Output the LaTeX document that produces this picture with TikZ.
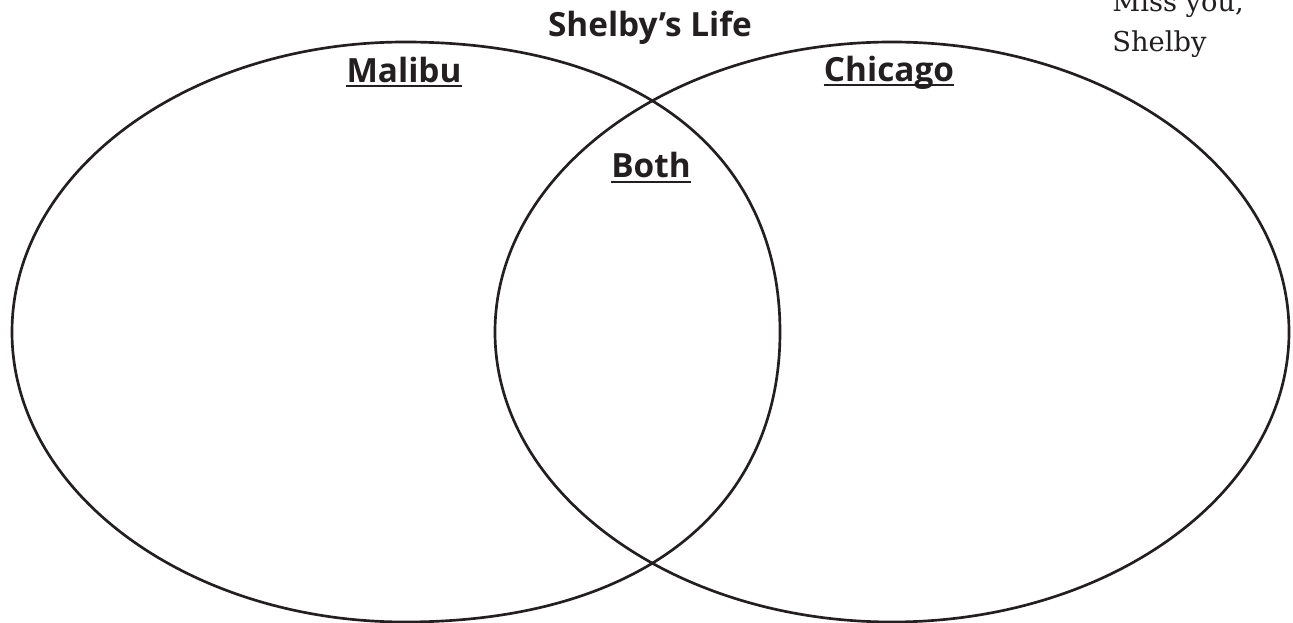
\documentclass[tikz,border=0pt]{standalone}
\usepackage{fontspec}
\setmainfont{Open Sans}
\newfontfamily\notefont{DejaVu Serif}
\definecolor{ink}{HTML}{231F20}
\tikzset{
  venn/.style={draw=ink, line width=2pt},
  head/.style={text=ink, inner sep=0pt, font=\fontsize{25}{30}\selectfont\bfseries},
  ul/.style={draw=ink, line width=1.5pt},
  note/.style={text=ink, inner sep=0pt, font=\notefont\fontsize{20.5}{30}\selectfont}
}
\begin{document}
\begin{tikzpicture}[x=0.75pt,y=-0.75pt]
\useasboundingbox (0,0) rectangle (1293,623);
\fill[white] (0,0) rectangle (1293,623);
% left set (Malibu)
\draw[venn] (12,332) .. controls (12,171.9) and (188.1,42) .. (405,42)
  .. controls (637.5,42) and (780,152.2) .. (780,332)
  .. controls (780,511.8) and (637.5,622) .. (405,622)
  .. controls (188.1,622) and (12,492.1) .. cycle;
% right set (Chicago)
\draw[venn] (892,332) ellipse [x radius=397, y radius=290];
% texts
\node[head, anchor=base] (title) at (650,37) {Shelby’s Life};
\node[head, anchor=base] (malibu) at (404,83) {Malibu};
\node[head, anchor=base] (chicago) at (889,82) {Chicago};
\node[head, anchor=base] (both) at (651,178) {Both};
\draw[ul] ([yshift=-2.4pt]malibu.base west) -- ([yshift=-2.4pt]malibu.base east);
\draw[ul] ([yshift=-2.4pt]chicago.base west) -- ([yshift=-2.4pt]chicago.base east);
\draw[ul] ([yshift=-3.2pt]both.base west) -- ([yshift=-3.2pt]both.base east);
\node[note, anchor=base west] (miss) at (1112,12) {Miss you,};
\node[note, anchor=base west] (sig) at (1112,52) {Shelby};
\end{tikzpicture}
\end{document}
